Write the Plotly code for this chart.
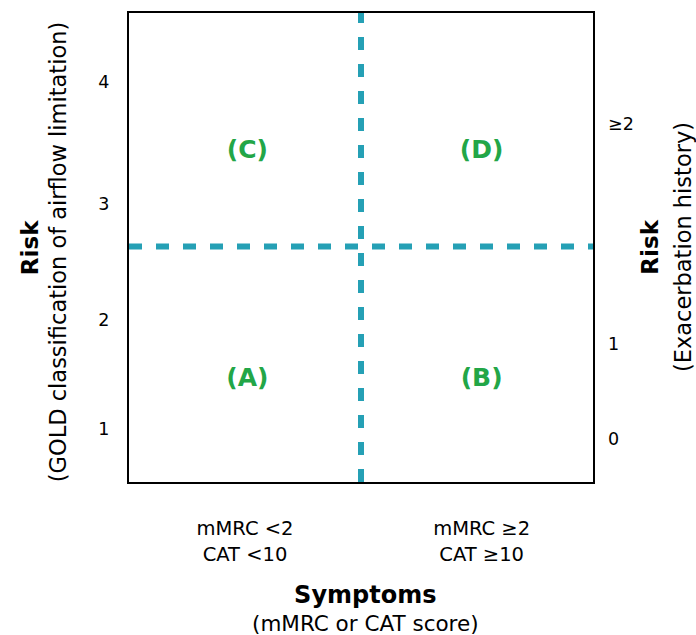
import plotly.graph_objects as go

# ---- data ----
quadrant_labels = ["(A)", "(B)", "(C)", "(D)"]
quadrant_x = [0.255, 0.76, 0.255, 0.76]
quadrant_y = [0.217, 0.217, 0.704, 0.704]

split_x = 0.5      # symptom split
split_y = 0.502    # risk split

left_tick_vals = [0.113, 0.345, 0.593, 0.853]
left_tick_text = ["1", "2", "3", "4"]

right_tick_vals = [0.092, 0.294, 0.763]
right_tick_text = ["0", "1", "≥2"]

x_tick_vals = [0.25, 0.76]
x_tick_text = ["mMRC <2<br>CAT <10", "mMRC ≥2<br>CAT ≥10"]

TEAL = "#25a0b5"
GREEN = "#22a647"
FONT = "DejaVu Sans, Verdana, sans-serif"

fig = go.Figure()

# dashed split lines
fig.add_trace(go.Scatter(x=[split_x, split_x], y=[0, 1], mode="lines",
                         line=dict(color=TEAL, width=6, dash="13px,14px"),
                         hoverinfo="skip", showlegend=False))
fig.add_trace(go.Scatter(x=[0, 1], y=[split_y, split_y], mode="lines",
                         line=dict(color=TEAL, width=6, dash="13px,14px"),
                         hoverinfo="skip", showlegend=False))

# quadrant labels
fig.add_trace(go.Scatter(x=quadrant_x, y=quadrant_y, mode="text",
                         text=["<b>%s</b>" % t for t in quadrant_labels],
                         textfont=dict(color=GREEN, size=25, family=FONT),
                         hoverinfo="skip", showlegend=False))

# invisible trace on right axis
fig.add_trace(go.Scatter(x=[0], y=[0], yaxis="y2", mode="markers",
                         marker=dict(opacity=0), hoverinfo="skip", showlegend=False))

fig.update_layout(
    width=696, height=635,
    margin=dict(l=129, r=103, t=13, b=153),
    paper_bgcolor="white", plot_bgcolor="white",
    font=dict(family=FONT, color="black", size=18),
    xaxis=dict(range=[0, 1], showgrid=False, zeroline=False,
               showline=True, mirror=True, linecolor="black", linewidth=2,
               tickvals=x_tick_vals, ticktext=x_tick_text, ticks="",
               ticklabelstandoff=28, tickfont=dict(size=19.5)),
    yaxis=dict(range=[0, 1], showgrid=False, zeroline=False,
               showline=True, mirror=True, linecolor="black", linewidth=2,
               tickvals=left_tick_vals, ticktext=left_tick_text, ticks="",
               ticklabelstandoff=14, tickfont=dict(size=17.5)),
    yaxis2=dict(range=[0, 1], overlaying="y", side="right", showgrid=False,
                zeroline=False, showline=False,
                tickvals=right_tick_vals, ticktext=right_tick_text, ticks="",
                ticklabelstandoff=14, tickfont=dict(size=17.5)),
    annotations=[
        dict(text="<b>Risk</b>", xref="paper", yref="paper", x=-0.213, y=0.499,
             xanchor="center", yanchor="middle", textangle=-90, showarrow=False,
             font=dict(size=23)),
        dict(text="(GOLD classification of airflow limitation)", xref="paper", yref="paper",
             x=-0.153, y=0.49, xanchor="center", yanchor="middle", textangle=-90,
             showarrow=False, font=dict(size=22.5)),
        dict(text="<b>Risk</b>", xref="paper", yref="paper", x=1.121, y=0.5,
             xanchor="center", yanchor="middle", textangle=-90, showarrow=False,
             font=dict(size=23)),
        dict(text="(Exacerbation history)", xref="paper", yref="paper",
             x=1.193, y=0.5, xanchor="center", yanchor="middle", textangle=-90,
             showarrow=False, font=dict(size=22.5)),
        dict(text="<span style='font-size:24px'><b>Symptoms</b></span><br>(mMRC or CAT score)",
             xref="paper", yref="paper", x=0.51, y=-0.269,
             xanchor="center", yanchor="middle", showarrow=False, font=dict(size=21.5)),
    ],
)

fig.write_html("out.html",
               config={"displayModeBar": False},
               post_script="document.body.style.margin='0';"
                           "document.body.style.overflow='hidden';")
